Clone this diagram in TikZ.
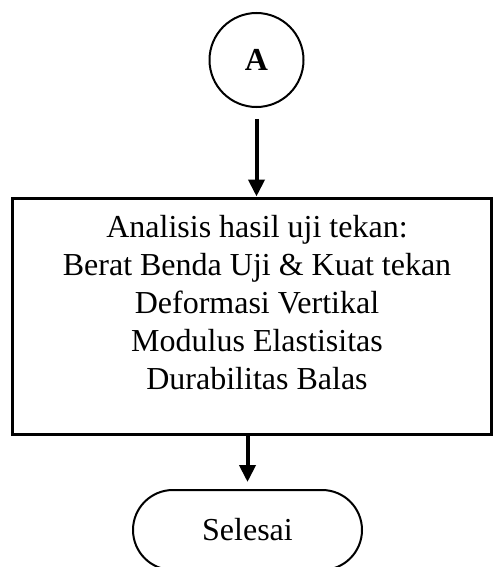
\documentclass[tikz,border=0pt]{standalone}
\usepackage{fontspec}
\setmainfont{Liberation Serif}
\usetikzlibrary{arrows.meta,shapes.misc}
\begin{document}
\begin{tikzpicture}[x=1pt,y=-1pt,
  txt/.style={font=\fontsize{32}{38}\selectfont},
  conn/.style={line width=4pt,-{Triangle[length=17pt,width=16pt]}},
  ]
\useasboundingbox (0,0) rectangle (493,567);
\node[circle,draw,line width=2pt,minimum size=94pt,inner sep=0,font=\fontsize{32}{38}\selectfont\bfseries] (a) at (256.5,60) {A};
\node[draw,line width=3pt,minimum width=479pt,minimum height=236pt,inner sep=0] (box) at (251.5,316) {};
\node[txt,align=center,inner sep=0] (boxtext) at (257,303) {Analisis hasil uji tekan:\\Berat Benda Uji \& Kuat tekan\\Deformasi Vertikal\\Modulus Elastisitas\\Durabilitas Balas};
\node[rounded rectangle,draw,line width=2pt,minimum width=229pt,minimum height=80pt,inner sep=0,txt] (end) at (247.5,530) {Selesai};
\draw[conn,shorten <=11pt] (a.south) -- (a.south |- box.north);
\draw[conn,shorten >=7pt] (end.north |- box.south) -- (end.north);
\end{tikzpicture}
\end{document}
